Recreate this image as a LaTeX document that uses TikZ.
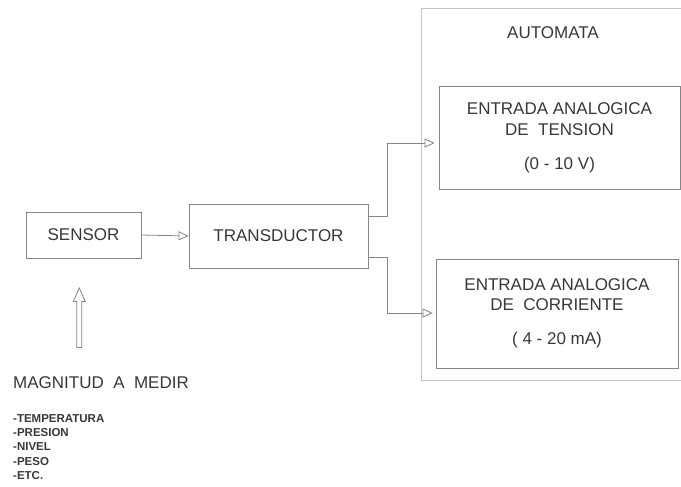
\documentclass[tikz,border=0pt]{standalone}
\usepackage{fontspec}
\setmainfont{Liberation Sans}
\usetikzlibrary{arrows.meta,calc}
\definecolor{ink}{HTML}{383838}
\definecolor{edge}{HTML}{858585}
\definecolor{framec}{HTML}{C4C4C4}
\tikzset{
  blk/.style={draw=edge, line width=0.8pt, text=ink, align=center, inner sep=0pt,
    font=\fontsize{17}{21}\selectfont},
  conn/.style={draw=edge, line width=0.8pt, -{Triangle[open,length=10pt,width=9pt]}},
  lbl/.style={text=ink, inner sep=0pt}
}
\begin{document}
\begin{tikzpicture}[x=1pt,y=-1pt]
\useasboundingbox[fill=white] (0,0) rectangle (681,487);
% automata frame
\coordinate (ftr) at (681,8);
\coordinate (ftl) at (421,8);
\coordinate (fbl) at (421,380);
\coordinate (fbr) at (681,380);
\draw[framec, line width=0.7pt] (ftr) -- (ftl) -- (fbl) -- (fbr);
\node[lbl, font=\fontsize{17}{21}\selectfont] (automata) at (553,33) {AUTOMATA};

\node[blk, minimum width=115pt, minimum height=46pt] (sensor) at (83.5,235) {SENSOR};
\node[blk, minimum width=179pt, minimum height=64pt] (trans) at (278.5,236) {TRANSDUCTOR};
\node[blk, minimum width=241pt, minimum height=103pt] (tension) at (559.5,137.5)
  {ENTRADA ANALOGICA\\DE\ \ TENSION\\[13pt](0 - 10 V)};
\node[blk, minimum width=242pt, minimum height=109pt] (corr) at (557,313.5)
  {ENTRADA ANALOGICA\\[-1pt]DE\ \ CORRIENTE\\[13pt]( 4 - 20 mA)};

\draw[conn] (sensor.east) -- (trans.west);
\coordinate (tu) at ($(trans.east)+(0,-20)$);
\coordinate (tl) at ($(trans.east)+(0,21)$);
\coordinate (au) at ($(tension.west)+(-4,5.5)$);
\coordinate (al) at ($(corr.west)+(-3,-0.5)$);
\draw[conn] (tu) -- ++(19,0) |- (au);
\draw[conn] (tl) -- ++(19,0) |- (al);

% hollow up arrow
\draw[edge, line width=0.8pt, fill=white] (79.3,288) -- (85.3,301.5) -- (81.8,301.5) -- (81.8,347.5)
  -- (76.8,347.5) -- (76.8,301.5) -- (73.3,301.5) -- cycle;

\node[lbl, anchor=north west, font=\fontsize{17}{21}\selectfont] (mag) at (13,376)
  {MAGNITUD\ \ A\ \ MEDIR};
\node[lbl, anchor=north west, align=left, font=\fontsize{11.5}{14.3}\selectfont\bfseries] (list) at (13,414)
  {-TEMPERATURA\\-PRESION\\-NIVEL\\-PESO\\-ETC.};
\end{tikzpicture}
\end{document}
